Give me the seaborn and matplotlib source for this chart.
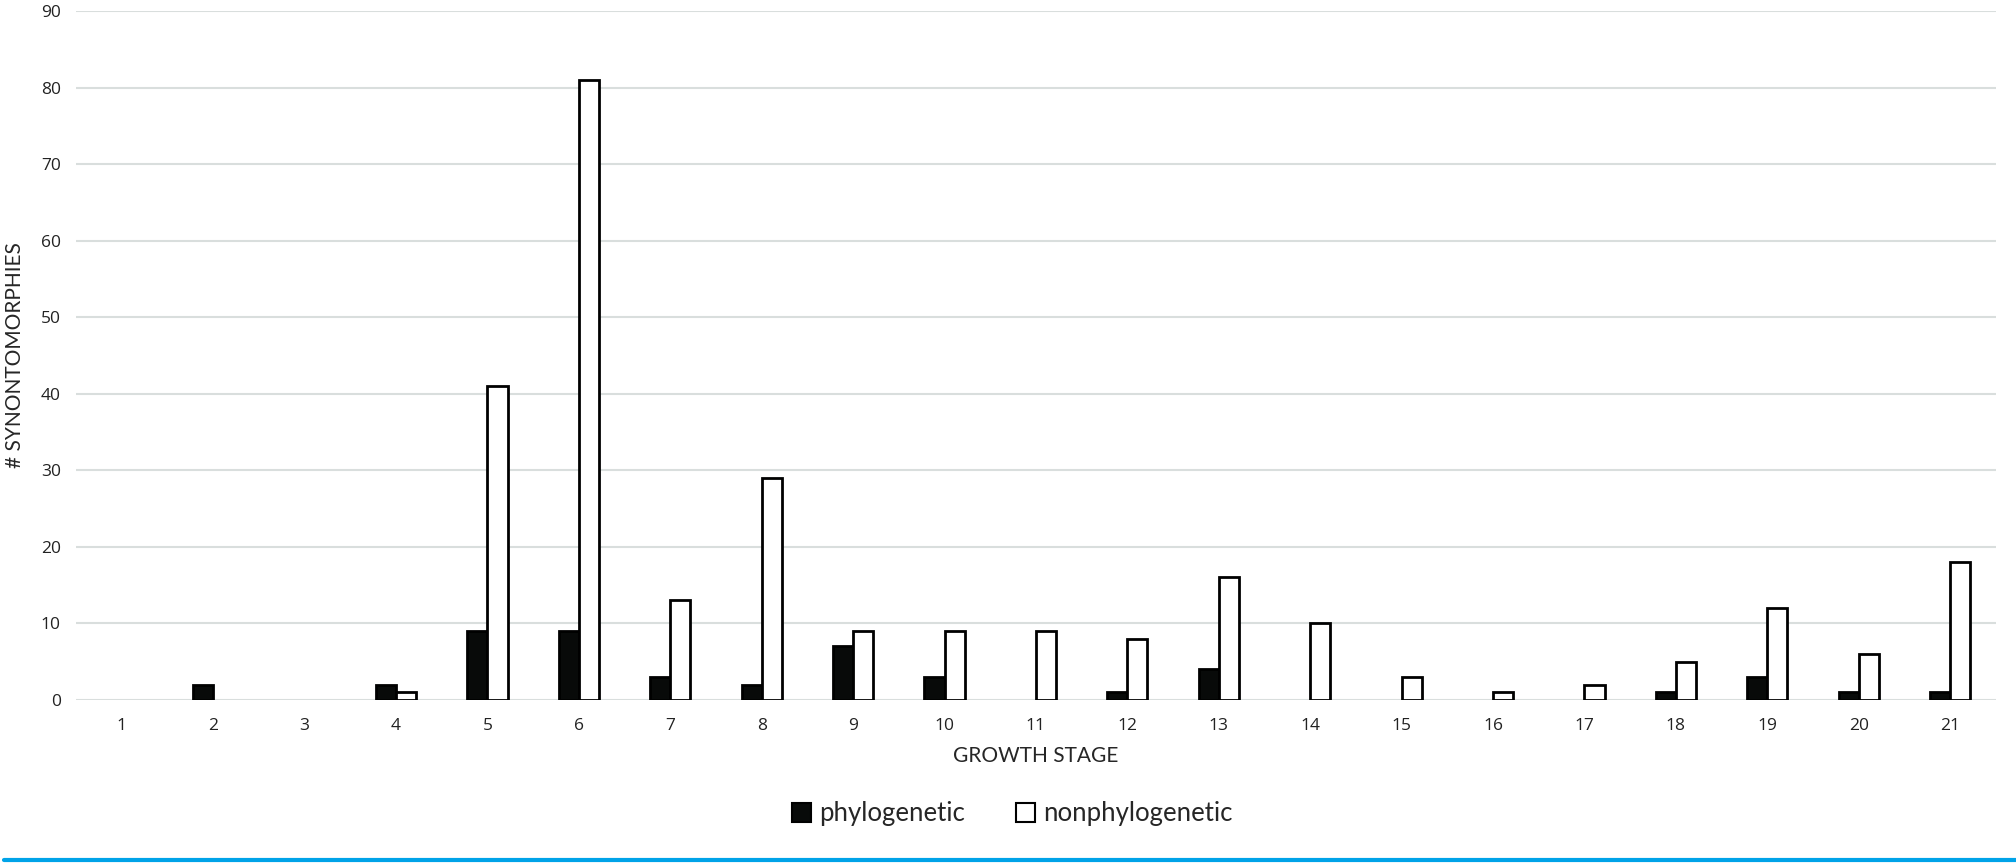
import seaborn as sns
import matplotlib.pyplot as plt
import pandas as pd
from matplotlib.lines import Line2D
from matplotlib.patches import Patch

# values, growth stage 1..21
stages = list(range(1, 22))
phylogenetic = [0, 2, 0, 2, 9, 9, 3, 2, 7, 3, 0, 1, 4, 0, 0, 0, 0, 1, 3, 1, 1]
nonphylogenetic = [0, 0, 0, 1, 41, 81, 13, 29, 9, 9, 9, 8, 16, 10, 3, 1, 2, 5, 12, 6, 18]

df = pd.DataFrame({
    'stage': stages * 2,
    'count': phylogenetic + nonphylogenetic,
    'type': ['phylogenetic'] * 21 + ['nonphylogenetic'] * 21,
})

sns.set_style('white')
plt.rcParams['font.family'] = ['Open Sans', 'DejaVu Sans']

fig = plt.figure(figsize=(20.16, 8.63), dpi=100)
ax = fig.add_axes([0.0377, 0.189, 0.9523, 0.798])

sns.barplot(
    data=df, x='stage', y='count', hue='type',
    palette={'phylogenetic': '#080a09', 'nonphylogenetic': 'white'},
    edgecolor='black', linewidth=2, width=0.44, gap=0,
    legend=False, ax=ax
)
# empty bars should not leave an outline on the baseline
for p in ax.patches:
    if p.get_height() == 0:
        p.set_linewidth(0)

ax.set_ylim(0, 90)
ax.set_yticks(range(0, 91, 10))
ax.set_xlim(-0.5, 20.5)
ax.yaxis.grid(True, color='#d9dedd', linewidth=1.5)
ax.set_axisbelow(True)
for s in ax.spines.values():
    s.set_visible(False)
ax.tick_params(axis='both', length=0, labelsize=12.5, colors='#222222')
ax.tick_params(axis='x', pad=13)
ax.tick_params(axis='y', pad=11)

ax.set_xlabel('GROWTH STAGE', fontsize=15, family=['Lato', 'DejaVu Sans'], labelpad=9)
ax.set_ylabel('# SYNONTOMORPHIES', fontsize=15, family=['Lato', 'DejaVu Sans'], labelpad=11)

handles = [
    Patch(facecolor='#080a09', edgecolor='black', linewidth=1.5, label='phylogenetic'),
    Patch(facecolor='white', edgecolor='black', linewidth=1.5, label='nonphylogenetic'),
]
fig.legend(handles=handles, loc='center', bbox_to_anchor=(0.502, 0.057), ncol=2,
           frameon=False, prop={'family': 'Lato', 'size': 18.5},
           handlelength=0.75, handleheight=0.75, handletextpad=0.3, columnspacing=2.0)

# blue rule along the bottom of the figure
fig.add_artist(Line2D([0.002, 1.0], [0.004, 0.004], color='#00a3e8', linewidth=3,
                      transform=fig.transFigure))

fig.savefig('out.png', dpi=100)
